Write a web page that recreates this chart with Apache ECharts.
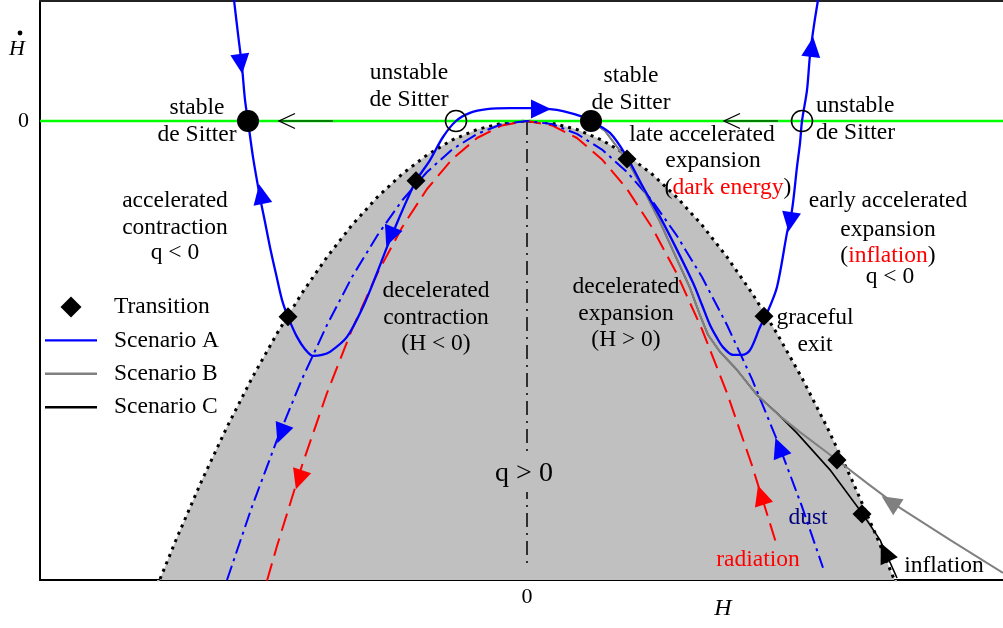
<!DOCTYPE html>
<html><head><meta charset="utf-8">
<script src="https://cdn.jsdelivr.net/npm/echarts@6/dist/echarts.min.js"></script>
<style>html,body{margin:0;padding:0;background:#fff}#c{width:1003px;height:628px}</style>
</head><body><div id="c"></div>
<script>
// ---------- data (H, dH/dt) ----------
const boundaryH    = [-3.70,-3.50,-3.25,-3.00,-2.75,-2.50,-2.25,-2.00,-1.75,-1.50,-1.25,-1.00,-0.75,-0.50,-0.25,0,0.25,0.50,0.75,1.00,1.25,1.50,1.75,2.00,2.25,2.50,2.75,3.00,3.25,3.50,3.70];
const boundaryHdot = [-13.69,-12.25,-10.56,-9.00,-7.56,-6.25,-5.06,-4.00,-3.06,-2.25,-1.56,-1.00,-0.56,-0.25,-0.06,0,-0.06,-0.25,-0.56,-1.00,-1.56,-2.25,-3.06,-4.00,-5.06,-6.25,-7.56,-9.00,-10.56,-12.25,-13.69];
const dustH    = [-3.00,-2.75,-2.50,-2.25,-2.00,-1.75,-1.50,-1.25,-1.00,-0.75,-0.50,-0.25,0,0.25,0.50,0.75,1.00,1.25,1.50,1.75,2.00,2.25,2.50,2.75,2.96];
const dustHdot = [-13.50,-11.34,-9.38,-7.59,-6.00,-4.59,-3.38,-2.34,-1.50,-0.84,-0.38,-0.09,0,-0.09,-0.38,-0.84,-1.50,-2.34,-3.38,-4.59,-6.00,-7.59,-9.38,-11.34,-13.14];
const radH    = [-2.60,-2.50,-2.25,-2.00,-1.75,-1.50,-1.25,-1.00,-0.75,-0.50,-0.25,0,0.25,0.50,0.75,1.00,1.25,1.50,1.75,2.00,2.25,2.50];
const radHdot = [-13.52,-12.50,-10.13,-8.00,-6.13,-4.50,-3.13,-2.00,-1.13,-0.50,-0.13,0,-0.13,-0.50,-1.13,-2.00,-3.13,-4.50,-6.13,-8.00,-10.13,-12.50];
const scenAH    = [-2.93,-2.89,-2.85,-2.82,-2.79,-2.74,-2.67,-2.62,-2.57,-2.51,-2.45,-2.39,-2.30,-2.22,-2.14,-2.05,-1.97,-1.80,-1.64,-1.50,-1.40,-1.30,-1.20,-1.11,-0.97,-0.84,-0.71,-0.57,-0.40,-0.17,0.03,0.23,0.36,0.56,0.64,0.83,1.00,1.16,1.33,1.50,1.66,1.75,1.83,1.90,1.96,2.06,2.15,2.23,2.33,2.40,2.50,2.60,2.65,2.70,2.73,2.75,2.80,2.83,2.87,2.91];
const scenAHdot = [3.56,2.56,1.59,0.62,0,-1.06,-2.24,-2.97,-3.71,-4.50,-5.26,-5.76,-6.35,-6.71,-6.91,-6.88,-6.79,-6.35,-5.47,-4.47,-3.71,-3.00,-2.32,-1.76,-1.15,-0.47,0,0.24,0.35,0.38,0.38,0.35,0.29,0.12,0,-0.35,-1.06,-1.94,-2.82,-3.79,-4.76,-5.41,-6.00,-6.38,-6.65,-6.88,-6.88,-6.74,-6.06,-5.65,-4.88,-3.29,-2.62,-1.35,-0.65,0,0.91,1.94,2.82,3.56];
const scenBH    = [0.64,0.78,1.00,1.18,1.33,1.48,1.63,1.73,1.81,1.93,2.10,2.30,2.53,2.73,3.10,3.40,3.73,4.23,4.76];
const scenBHdot = [0,-0.29,-1.15,-2.09,-2.97,-3.94,-4.91,-5.71,-6.29,-6.79,-7.32,-8.06,-8.68,-9.15,-9.97,-10.65,-11.38,-12.32,-13.29];
const scenCH    = [0.64,0.78,1.00,1.18,1.33,1.48,1.63,1.73,1.81,1.93,2.10,2.30,2.50,2.70,3.03,3.35,3.53,3.70];
const scenCHdot = [0,-0.29,-1.15,-2.09,-2.97,-3.94,-4.91,-5.71,-6.29,-6.79,-7.32,-8.06,-8.59,-9.18,-10.26,-11.53,-12.32,-13.44];
const transH    = [-2.39,-1.11,1.00,2.37,3.10,3.35];
const transHdot = [-5.76,-1.76,-1.12,-5.74,-9.97,-11.56];
const stableH   = [-2.79,0.64];
const unstableH = [-0.71,2.75];
const fixedHdot = [0,0];
const flowLeft1 = [[-1.94,0],[-2.48,0]];
const flowLeft2 = [[2.51,0],[1.97,0]];
const qLineH    = [0,0];
const qLineHdot = [0,-13.0];
// arrows: [H, Hdot, direction angle (deg, ccw from up)]
const arrowsA    = [[-2.86,1.68,187],[-2.66,-2.15,11],[0.14,0.35,-90],[2.85,2.18,-7],[2.63,-2.97,171],[-1.37,-3.40,158]];
const arrowsDust = [[-2.46,-9.2,159],[2.52,-9.6,21]];
const arrowsRad  = [[-2.28,-10.55,162],[2.34,-11.0,17.5]];
const arrowsB    = [[3.63,-11.2,57]];
const arrowsC    = [[3.58,-12.68,25]];
const xMin=-4.87, xMax=4.76, yMin=-13.5, yMax=3.53;
const xTicks=[0], yTicks=[0];

// ---------- chart ----------
const zip=(a,b)=>a.map((v,i)=>[v,b[i]]);
const F='"Liberation Serif","Times New Roman",serif';
const OPEN='path://M16,0L0,8L16,16';
const LINEICON='path://M0,0H52V2.4H0Z';
const DIAMOND='path://M8,0L16,8L8,16L0,8Z';
function lineS(name,data,ls,z,extra){return Object.assign({name,type:'line',data,symbol:'none',showSymbol:false,lineStyle:ls,z,animation:false,silent:true},extra||{});}
function arrowS(data,color){return {type:'scatter',data,symbol:'triangle',symbolSize:[19,20],symbolRotate:(v)=>v[2],itemStyle:{color,opacity:1},z:20,silent:true,animation:false};}
function flowS(d){return {type:'line',data:[d[0],{value:d[1],symbol:OPEN,symbolSize:[16,15],symbolOffset:['50%',0]}],symbol:'none',showSymbol:true,lineStyle:{color:'#000',width:1.2},itemStyle:{color:'rgba(0,0,0,0)',borderColor:'#000',borderWidth:1.3},z:9,silent:true,animation:false};}
function txt(x,y,text,o){o=o||{};const size=o.size||23.5;const al=o.align||'center';
  const st={text,fill:o.color||'#000',font:(o.italic?'italic ':'')+size+'px '+F,align:al,textAlign:al,verticalAlign:'middle',textVerticalAlign:'middle'};
  if(o.rich)st.rich=o.rich; if(o.bg){st.backgroundColor=o.bg;st.padding=o.pad;}
  return {type:'text',x,y,z:100,silent:true,style:st};}
const richParen={k:{fill:'#000',font:'23.5px '+F},r:{fill:'#ff0000',font:'23.5px '+F}};

const chart=echarts.init(document.getElementById('c'),null,{renderer:'canvas'});
chart.setOption({
  animation:false,
  backgroundColor:'#fff',
  grid:{left:40,right:0,top:1,bottom:48,outerBoundsMode:'none'},
  xAxis:[{type:'value',min:xMin,max:xMax,axisLine:{show:true,onZero:false,lineStyle:{color:'#000',width:2}},axisTick:{show:false},splitLine:{show:false},
          axisLabel:{customValues:xTicks,formatter:v=>String(v),margin:6,fontFamily:F,fontSize:22,color:'#000'}},
         {type:'value',position:'top',min:xMin,max:xMax,axisLine:{show:true,onZero:false,lineStyle:{color:'#222',width:2}},axisTick:{show:false},axisLabel:{show:false},splitLine:{show:false}}],
  yAxis:{type:'value',min:yMin,max:yMax,axisLine:{show:true,onZero:false,lineStyle:{color:'#000',width:2}},axisTick:{show:false},splitLine:{show:false},
         axisLabel:{customValues:yTicks,formatter:v=>String(v),margin:11,fontFamily:F,fontSize:22,color:'#000'}},
  legend:{data:[{name:'Transition',icon:DIAMOND},{name:'Scenario A',icon:LINEICON},{name:'Scenario B',icon:LINEICON},{name:'Scenario C',icon:LINEICON}],
          orient:'vertical',left:45,top:295,padding:0,itemWidth:52,itemHeight:21,itemGap:9.4,selectedMode:false,symbolKeepAspect:true,
          textStyle:{fontFamily:F,fontSize:23.5,color:'#000',padding:[0,0,0,12]}},
  series:[
    lineS('q=0',zip(boundaryH,boundaryHdot),{color:'#000',width:3,type:[3,5],cap:'butt'},3,{areaStyle:{color:'#c0c0c0',opacity:1,origin:'start'}}),
    lineS('Hdot0',[[xMin,0],[xMax,0]],{color:'#00ff00',width:2.5},4),
    lineS('qline',zip(qLineH,qLineHdot),{color:'#000',width:1.5,type:[14,6,2,6]},4),
    lineS('radiation',zip(radH,radHdot),{color:'#ff0000',width:2,type:[18,8]},5),
    lineS('dust',zip(dustH,dustHdot),{color:'#0000ff',width:2,type:[15,5,3,5]},5),
    lineS('Scenario C',zip(scenCH,scenCHdot),{color:'#000',width:1.6},6,{itemStyle:{color:'#000'}}),
    lineS('Scenario B',zip(scenBH,scenBHdot),{color:'#808080',width:2},7,{itemStyle:{color:'#808080'}}),
    lineS('Scenario A',zip(scenAH,scenAHdot),{color:'#0000ff',width:2.3},8,{smooth:0.3,itemStyle:{color:'#0000ff'}}),
    flowS(flowLeft1), flowS(flowLeft2),
    {name:'stable',type:'scatter',data:zip(stableH,fixedHdot),symbol:'circle',symbolSize:22,itemStyle:{color:'#000',opacity:1},z:12,silent:true},
    {name:'unstable',type:'scatter',data:zip(unstableH,fixedHdot),symbol:'circle',symbolSize:21,itemStyle:{color:'rgba(0,0,0,0)',borderColor:'#000',borderWidth:1.5,opacity:1},z:12,silent:true},
    {name:'Transition',type:'scatter',data:zip(transH,transHdot),symbol:'diamond',symbolSize:19,itemStyle:{color:'#000',opacity:1},z:13,silent:true},
    arrowS(arrowsA,'#0000ff'),arrowS(arrowsDust,'#0000ff'),arrowS(arrowsRad,'#ff0000'),arrowS(arrowsB,'#808080'),arrowS(arrowsC,'#000')
  ],
  graphic:[
    txt(17,49,'H',{italic:true,size:22}),
    {type:'circle',shape:{cx:20,cy:33,r:2.4},style:{fill:'#000'},z:100,silent:true},
    txt(723,609,'H',{italic:true,size:24}),
    txt(197,108,'stable'),txt(197,135,'de Sitter'),
    txt(409,73,'unstable'),txt(409,100,'de Sitter'),
    txt(631,76,'stable'),txt(631,103,'de Sitter'),
    txt(816,106,'unstable',{align:'left'}),txt(816,133,'de Sitter',{align:'left'}),
    txt(702,135,'late accelerated'),txt(713,161,'expansion'),txt(728,188,'{k|(}{r|dark energy}{k|)}',{rich:richParen}),
    txt(888,201,'early accelerated'),txt(888,230,'expansion'),txt(888,256,'{k|(}{r|inflation}{k|)}',{rich:richParen}),txt(890,277,'q < 0'),
    txt(175,201,'accelerated'),txt(175,228,'contraction'),txt(175,253,'q < 0'),
    txt(436,291,'decelerated'),txt(436,318,'contraction'),txt(436,344,'(H < 0)'),
    txt(626,287,'decelerated'),txt(626,314,'expansion'),txt(626,340,'(H > 0)'),
    txt(815,318,'graceful'),txt(815,345,'exit'),
    txt(808,518,'dust',{color:'#000080'}),txt(758,560,'radiation',{color:'#ff0000'}),txt(944,566,'inflation'),
    txt(524,474,'q > 0',{size:28,bg:'#c0c0c0',pad:[4,3]})
  ]
});
</script></body></html>
